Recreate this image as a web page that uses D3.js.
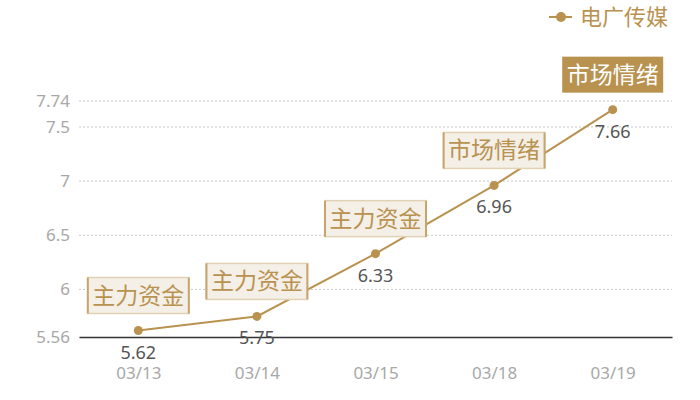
<!DOCTYPE html>
<html>
<head>
<meta charset="utf-8">
<script src="https://cdn.jsdelivr.net/npm/d3@7"></script>
<style>
  body { margin: 0; background: #fff; }
  svg text { font-family: "Noto Sans", "Noto Sans CJK SC", sans-serif; }
</style>
</head>
<body>
<div id="chart"></div>
<script>
// data
const dates = ['03/13', '03/14', '03/15', '03/18', '03/19'];
const prices = [5.62, 5.75, 6.33, 6.96, 7.66];
const notes = ['主力资金', '主力资金', '主力资金', '市场情绪', '市场情绪'];
const yTicks = [5.56, 6, 6.5, 7, 7.5, 7.74];
const seriesName = '电广传媒';

const W = 700, H = 400;
const margin = { top: 101, right: 28, bottom: 63, left: 79 };
const width = W - margin.left - margin.right;
const height = H - margin.top - margin.bottom;

const gold = '#b99250';
const cjk = '"Noto Sans CJK SC", sans-serif';

let svg = d3.select('#chart').append('svg')
    .attr('width', W)
    .attr('height', H);

let plot = svg.append('g').attr('transform', 'translate(' + margin.left + ',' + margin.top + ')');

let xScale = d3.scalePoint().domain(dates).range([0, width]).padding(0.5);
let yScale = d3.scaleLinear().domain([5.56, 7.74]).range([height, 0]);

// grid lines
plot.append('g').selectAll('line')
    .data(yTicks.filter(d => d !== 5.56))
    .join('line')
    .attr('x1', 0).attr('x2', width)
    .attr('y1', d => yScale(d)).attr('y2', d => yScale(d))
    .attr('stroke', '#c8c8c8')
    .attr('stroke-dasharray', '2,2');

// y axis labels
let yAxis = plot.append('g')
    .call(d3.axisLeft(yScale).tickValues(yTicks).tickSize(0).tickPadding(9).tickFormat(d => d));
yAxis.select('.domain').remove();
yAxis.selectAll('text').attr('fill', '#a8a8a8').style('font-size', '17px');

// x axis
let xAxis = plot.append('g')
    .attr('transform', 'translate(0,' + height + ')')
    .call(d3.axisBottom(xScale).tickSize(0).tickPadding(30));
xAxis.select('.domain').attr('stroke', '#333').attr('stroke-width', 1.5);
xAxis.selectAll('text').attr('fill', '#a8a8a8').style('font-size', '17px');

// line and points
let lineGen = d3.line()
    .x((d, i) => xScale(dates[i]))
    .y(d => yScale(d));

plot.append('path')
    .datum(prices)
    .attr('fill', 'none')
    .attr('stroke', gold)
    .attr('stroke-width', 2)
    .attr('d', lineGen);

plot.append('g').selectAll('circle')
    .data(prices)
    .join('circle')
    .attr('cx', (d, i) => xScale(dates[i]))
    .attr('cy', d => yScale(d))
    .attr('r', 4.5)
    .attr('fill', gold);

// value labels
plot.append('g').selectAll('text')
    .data(prices)
    .join('text')
    .attr('x', (d, i) => xScale(dates[i]))
    .attr('y', d => yScale(d) + 28)
    .attr('text-anchor', 'middle')
    .attr('fill', '#555')
    .style('font-size', '18px')
    .text(d => d.toFixed(2));

// annotation boxes
const boxW = 101, boxH = 36;
let notesG = plot.append('g').selectAll('g')
    .data(prices)
    .join('g')
    .attr('transform', (d, i) => 'translate(' + (xScale(dates[i]) - boxW / 2) + ',' + (yScale(d) - 17 - boxH) + ')');

notesG.append('rect')
    .attr('width', boxW).attr('height', boxH)
    .attr('fill', (d, i) => i === prices.length - 1 ? gold : '#f4efe7')
    .attr('stroke', (d, i) => i === prices.length - 1 ? 'none' : '#e2d2b4')
    .attr('stroke-width', 1.5);

notesG.filter((d, i) => i !== prices.length - 1)
    .selectAll('line.side')
    .data([0, boxW])
    .join('line')
    .classed('side', true)
    .attr('x1', d => d).attr('x2', d => d)
    .attr('y1', 0).attr('y2', boxH)
    .attr('stroke', '#c7a46b')
    .attr('stroke-width', 2);

notesG.append('text')
    .attr('x', boxW / 2)
    .attr('y', boxH / 2 + 8)
    .attr('text-anchor', 'middle')
    .attr('fill', (d, i) => i === prices.length - 1 ? '#fff' : gold)
    .style('font-family', cjk)
    .style('font-size', '23px')
    .text((d, i) => notes[i]);

// legend
let legend = svg.append('g').attr('transform', 'translate(549,17)');
legend.append('line')
    .attr('x1', 0).attr('x2', 23)
    .attr('stroke', gold).attr('stroke-width', 2);
legend.append('circle')
    .attr('cx', 12).attr('r', 5).attr('fill', gold);
legend.append('text')
    .attr('x', 31).attr('y', 8)
    .attr('fill', gold)
    .style('font-family', cjk)
    .style('font-size', '22px')
    .text(seriesName);
</script>
</body>
</html>
